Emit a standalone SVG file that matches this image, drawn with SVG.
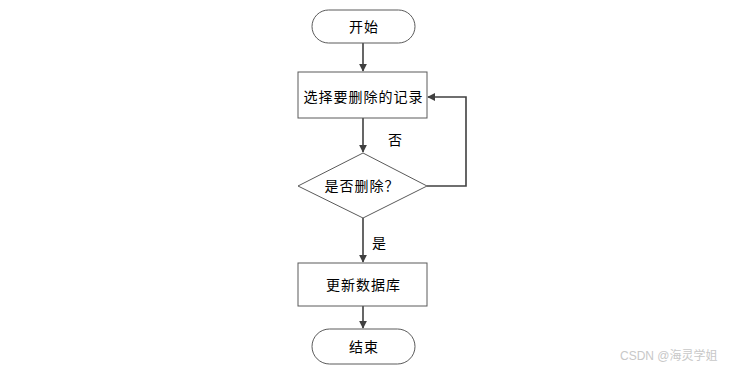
<svg xmlns="http://www.w3.org/2000/svg" width="732" height="369" viewBox="0 0 732 369">
<style>
.shape{fill:#ffffff;stroke:#5a5a5a;stroke-width:1}
.t{font-family:"Liberation Sans","Noto Sans CJK SC",sans-serif;font-size:14px;letter-spacing:1px;fill:#000;text-anchor:middle;dominant-baseline:central}
.c{fill:none;stroke:#404040;stroke-width:1.6}
.wm{font-family:"Liberation Sans","Noto Sans CJK SC",sans-serif;font-size:12px;fill:#c8c8c8}
</style>
<defs>
<marker id="ah" viewBox="0 0 10 10" refX="9" refY="5" markerWidth="8" markerHeight="8" markerUnits="userSpaceOnUse" orient="auto">
<path d="M0,0 L10,5 L0,10 z" fill="#404040"/>
</marker>
</defs>
<rect width="732" height="369" fill="#ffffff"/>
<g id="connectors">
<line class="c" x1="363" y1="43" x2="363" y2="71" marker-end="url(#ah)"/>
<line class="c" x1="363" y1="118" x2="363" y2="152" marker-end="url(#ah)"/>
<polyline class="c" points="427,186 466,186 466,97 428,97" marker-end="url(#ah)"/>
<line class="c" x1="363" y1="218" x2="363" y2="262" marker-end="url(#ah)"/>
<line class="c" x1="363" y1="306" x2="363" y2="328" marker-end="url(#ah)"/>
<text class="t" x="395.5" y="140">否</text>
<text class="t" x="379.5" y="243">是</text>
</g>
<g id="start">
<rect class="shape" x="312" y="10" width="103" height="33" rx="16.5" ry="16.5"/>
<text class="t" x="364" y="26.5">开始</text>
</g>
<g id="select">
<rect class="shape" x="298" y="72" width="129" height="46"/>
<text class="t" x="363.5" y="97">选择要删除的记录</text>
</g>
<g id="decision">
<polygon class="shape" points="363,153 427,186 363,218 298,186"/>
<text class="t" x="362" y="186">是否删除？</text>
</g>
<g id="update">
<rect class="shape" x="298" y="263" width="129" height="43"/>
<text class="t" x="363.5" y="284.5">更新数据库</text>
</g>
<g id="end">
<rect class="shape" x="312" y="329" width="103" height="35" rx="17.5" ry="17.5"/>
<text class="t" x="364" y="346.5">结束</text>
</g>
<text class="wm" x="620" y="360">CSDN @海灵学姐</text>
</svg>
